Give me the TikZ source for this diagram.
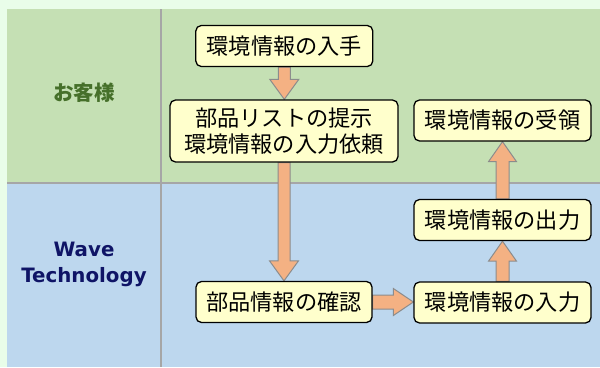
\documentclass[tikz,border=0pt]{standalone}
\usepackage{fontspec}
\newfontfamily\jp{Noto Sans CJK JP}
\newfontfamily\vsans{DejaVu Sans}
\usetikzlibrary{calc}
\definecolor{outerbg}{HTML}{E9FDE9}
\definecolor{topband}{HTML}{C5E0B4}
\definecolor{botband}{HTML}{BDD7EE}
\definecolor{gridgray}{HTML}{A6A6A6}
\definecolor{boxfill}{HTML}{FFFFCC}
\definecolor{arrfill}{HTML}{F4B183}
\definecolor{arrline}{HTML}{8C8C8C}
\definecolor{custgreen}{HTML}{46702A}
\definecolor{navytext}{HTML}{0F1466}
\pgfdeclarelayer{back}
\pgfdeclarelayer{arr}
\pgfsetlayers{back,arr,main}
\begin{document}
\begin{tikzpicture}[x=1pt,y=-1pt,
  stepbox/.style={draw=black, line width=1.3pt, fill=boxfill, rounded corners=5.5pt,
    inner sep=0pt, align=center, minimum height=41pt,
    font=\jp\fontsize{22.2}{26}\selectfont},
  blockarrow/.style={fill=arrfill, draw=arrline, line width=1pt, line join=miter},
  lane/.style={inner sep=0pt, align=center}]
\useasboundingbox (0,0) rectangle (600,367);
\begin{pgfonlayer}{back}
  \fill[outerbg] (0,0) rectangle (600,367);
  \fill[topband] (7,9) rectangle (600,183);
  \fill[botband] (7,183) rectangle (600,367);
  \draw[gridgray, line width=1.5pt] (161,9) -- (161,367);
  \draw[gridgray, line width=1.5pt] (7,183) -- (600,183);
\end{pgfonlayer}

\node[lane, text=custgreen, font=\jp\bfseries\fontsize{20.5}{24}\selectfont] (cust) at (84,93) {お客様};
\node[lane, text=navytext, font=\vsans\bfseries\fontsize{19.8}{26}\selectfont] (wave) at (84,264) {Wave\\Technology};

\node[stepbox, minimum width=177pt] (b1) at (284.3,46) {環境情報の入手};
\node[stepbox, minimum width=228pt, minimum height=62pt] (b2) at (284,131) {部品リストの提示\\環境情報の入力依頼};
\node[stepbox, minimum width=177pt] (b3) at (502.5,120.5) {環境情報の受領};
\node[stepbox, minimum width=177pt] (b4) at (502.5,220) {環境情報の出力};
\node[stepbox, minimum width=177pt] (b5) at (502.5,302.5) {環境情報の入力};
\node[stepbox, minimum width=176pt] (b6) at (284,302) {部品情報の確認};

\begin{pgfonlayer}{arr}
% down arrows
\foreach \a/\b in {b1/b2, b2/b6}{
  \path[blockarrow] let \p1=(\a.south), \p2=(\b.north) in
    (\x1-6pt,\y1) -- (\x1-6pt,\y2+20pt) -- (\x1-14.5pt,\y2+20pt) -- (\x1,\y2)
    -- (\x1+14.5pt,\y2+20pt) -- (\x1+6pt,\y2+20pt) -- (\x1+6pt,\y1) -- cycle;
}
% up arrows
\foreach \a/\b in {b5/b4, b4/b3}{
  \path[blockarrow] let \p1=(\a.north), \p2=(\b.south) in
    (\x1-6.5pt,\y1) -- (\x1-6.5pt,\y2-20pt) -- (\x1-14pt,\y2-20pt) -- (\x1,\y2)
    -- (\x1+14pt,\y2-20pt) -- (\x1+6.5pt,\y2-20pt) -- (\x1+6.5pt,\y1) -- cycle;
}
% right arrow
\path[blockarrow] let \p1=(b6.east), \p2=(b5.west) in
  (\x1,\y1-7pt) -- (\x2-20pt,\y1-7pt) -- (\x2-20pt,\y1-13.5pt) -- (\x2,\y1)
  -- (\x2-20pt,\y1+13.5pt) -- (\x2-20pt,\y1+7pt) -- (\x1,\y1+7pt) -- cycle;
\end{pgfonlayer}
\end{tikzpicture}
\end{document}
